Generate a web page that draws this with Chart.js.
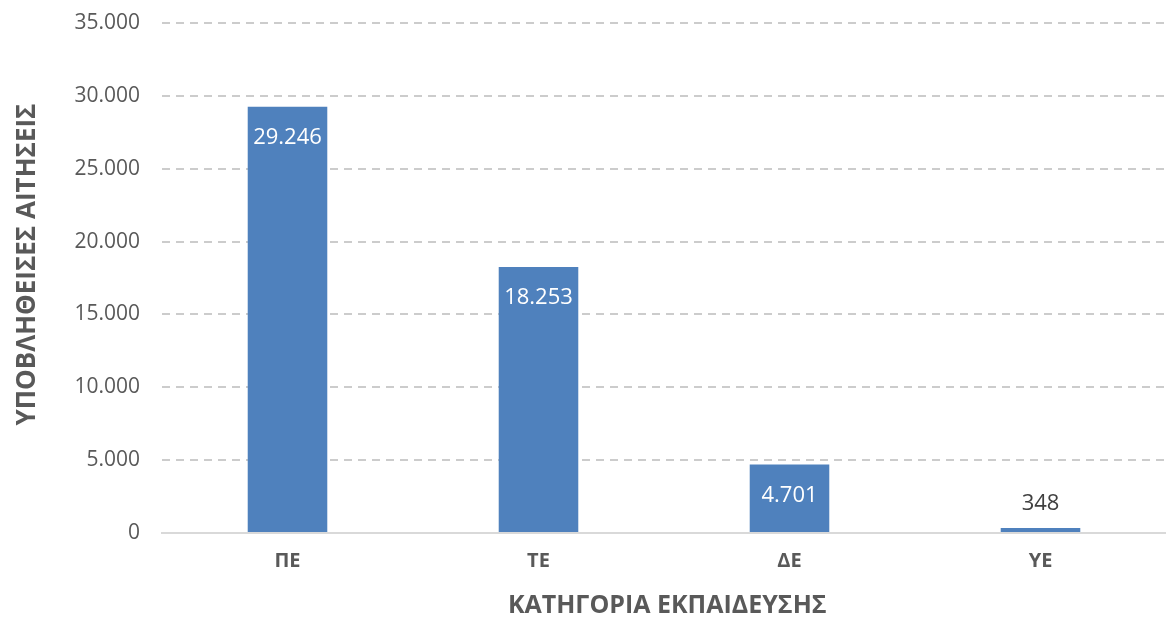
<!DOCTYPE html>
<html>
<head>
<meta charset="utf-8">
<script src="https://cdn.jsdelivr.net/npm/chart.js@4/dist/chart.umd.min.js"></script>
<style>
html,body{margin:0;padding:0;background:#fff;}
#wrap{width:1166px;height:617px;position:relative;}
</style>
</head>
<body>
<div id="wrap"><canvas id="c" width="1166" height="617"></canvas></div>
<script>
const categories = ['ΠΕ', 'ΤΕ', 'ΔΕ', 'ΥΕ'];
const applications = [29246, 18253, 4701, 348];
const yTicks = [0, 5000, 10000, 15000, 20000, 25000, 30000, 35000];
const xTitle = ' ΚΑΤΗΓΟΡΙΑ ΕΚΠΑΙΔΕΥΣΗΣ';
const yTitle = '    ΥΠΟΒΛΗΘΕΙΣΕΣ ΑΙΤΗΣΕΙΣ';

const fmt = v => v.toLocaleString('de-DE');
const FONT = "'Open Sans', 'Noto Sans', sans-serif";

const valueLabels = {
  id: 'valueLabels',
  afterDatasetsDraw(chart) {
    const ctx = chart.ctx;
    const meta = chart.getDatasetMeta(0);
    ctx.save();
    ctx.font = "22px " + FONT;
    ctx.textAlign = 'center';
    ctx.textBaseline = 'middle';
    meta.data.forEach((bar, i) => {
      const h = bar.base - bar.y;
      const txt = fmt(applications[i]);
      if (h > 50) {
        ctx.fillStyle = '#ffffff';
        ctx.fillText(txt, bar.x, bar.y + 31);
      } else {
        ctx.fillStyle = '#404040';
        ctx.fillText(txt, bar.x, bar.y - 24);
      }
    });
    ctx.restore();
  }
};

new Chart(document.getElementById('c'), {
  type: 'bar',
  data: {
    labels: categories,
    datasets: [{
      data: applications,
      backgroundColor: '#4f81bd',
      borderWidth: 0,
      categoryPercentage: 1,
      barPercentage: 0.317
    }]
  },
  options: {
    responsive: false,
    animation: false,
    layout: { padding: { top: 23, right: 0, bottom: 0, left: 0 } },
    plugins: { legend: { display: false }, tooltip: { enabled: false } },
    scales: {
      x: {
        grid: { display: false, drawTicks: false },
        border: { display: true, color: '#d9d9d9', width: 2 },
        ticks: { color: '#595959', font: { family: FONT, size: 20, weight: 'bold' }, padding: 16 },
        title: { display: true, text: xTitle, color: '#595959', font: { family: FONT, size: 25, weight: 'bold', lineHeight: 0.9 }, padding: { top: 0, bottom: 0 } },
        afterFit(scale) { scale.height = 84; }
      },
      y: {
        min: 0, max: 35000,
        afterBuildTicks(scale) { scale.ticks = yTicks.map(v => ({ value: v })); },
        grid: { drawTicks: false, color: ctx => ctx.tick && ctx.tick.value === 0 ? 'rgba(0,0,0,0)' : '#cccccc', lineWidth: 2 },
        border: { display: false, dash: [8, 6] },
        ticks: { color: '#595959', font: { family: FONT, size: 21, lineHeight: 0.05 }, padding: 22, callback: v => fmt(v) },
        title: { display: true, text: yTitle, color: '#595959', font: { family: FONT, size: 26, weight: 'bold', lineHeight: 1 }, padding: { top: 15, bottom: 0 } },
        afterFit(scale) { scale.width = 162; }
      }
    }
  },
  plugins: [valueLabels]
});
</script>
</body>
</html>
